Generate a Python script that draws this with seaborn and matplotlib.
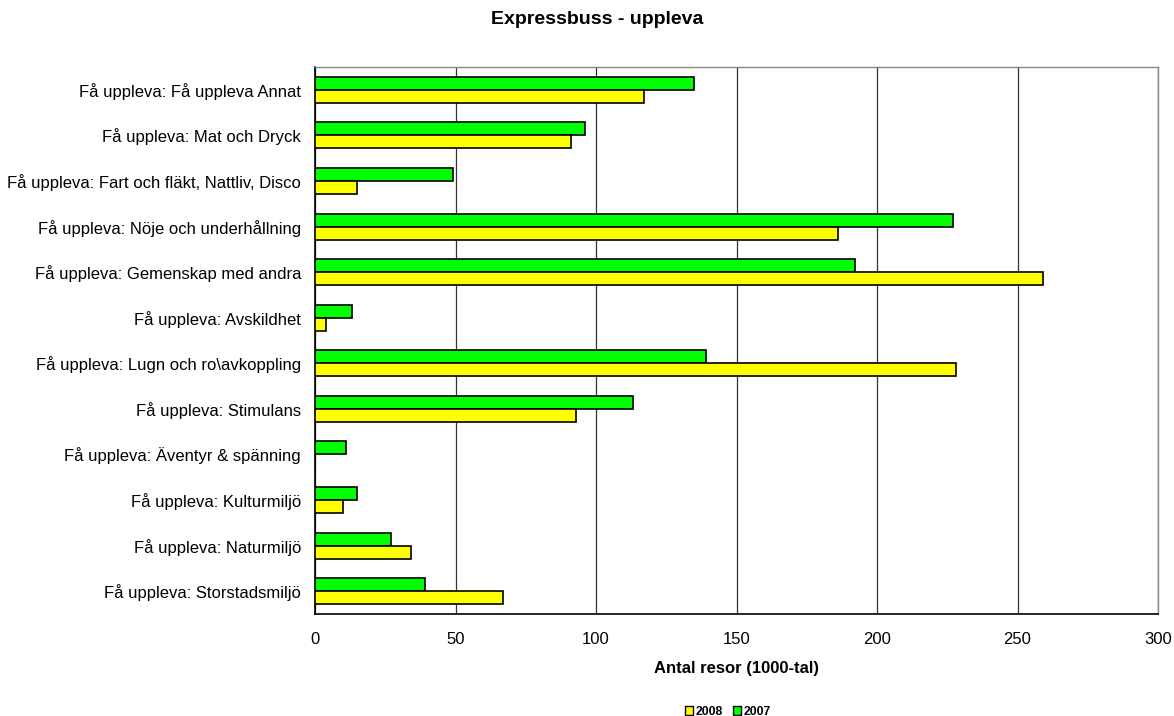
import matplotlib
matplotlib.use("Agg")
import matplotlib.pyplot as plt
from matplotlib.patches import Patch
from matplotlib.ticker import FixedLocator
import seaborn as sns
import pandas as pd

categories = [
    "Få uppleva: Få uppleva Annat",
    "Få uppleva: Mat och Dryck",
    "Få uppleva: Fart och fläkt, Nattliv, Disco",
    "Få uppleva: Nöje och underhållning",
    "Få uppleva: Gemenskap med andra",
    "Få uppleva: Avskildhet",
    "Få uppleva: Lugn och ro\\avkoppling",
    "Få uppleva: Stimulans",
    "Få uppleva: Äventyr & spänning",
    "Få uppleva: Kulturmiljö",
    "Få uppleva: Naturmiljö",
    "Få uppleva: Storstadsmiljö",
]
values_2007 = [135, 96, 49, 227, 192, 13, 139, 113, 11, 15, 27, 39]
values_2008 = [117, 91, 15, 186, 259, 4, 228, 93, 0, 10, 34, 67]
series = ["2007", "2008"]
legend_order = ["2008", "2007"]
colors = {"2007": "#00FF00", "2008": "#FFFF00"}

df = pd.DataFrame({
    "category": categories * 2,
    "year": ["2007"] * len(categories) + ["2008"] * len(categories),
    "value": values_2007 + values_2008,
})

sns.set_style("white")
plt.rcParams["font.family"] = ["Liberation Sans", "DejaVu Sans"]
plt.rcParams["text.color"] = "black"
plt.rcParams["axes.labelcolor"] = "black"
plt.rcParams["xtick.color"] = "black"
plt.rcParams["ytick.color"] = "black"

fig = plt.figure(figsize=(11.74, 7.16), dpi=100)
ax = fig.add_axes([315 / 1174, 1 - 614 / 716, (1158 - 315) / 1174, (614 - 67) / 716])

sns.barplot(data=df, x="value", y="category", hue="year", hue_order=series,
            order=categories, orient="h", palette=colors, width=0.57,
            edgecolor="black", linewidth=1.2, saturation=1, ax=ax, legend=False, zorder=3)

ax.set_xlim(0, 300)
ax.set_ylim(len(categories) - 0.5, -0.5)
ax.set_xticks(range(0, 301, 50))
ax.tick_params(axis="x", labelsize=12, length=5, width=1, direction="out", color="black", pad=8)
ax.xaxis.grid(True, color="#333333", linewidth=0.9, zorder=0)
ax.set_axisbelow(True)

ax.yaxis.set_minor_locator(FixedLocator([i - 0.5 for i in range(len(categories) + 1)]))
ax.tick_params(axis="y", which="major", length=0, labelsize=12, pad=10)
ax.tick_params(axis="y", which="minor", length=5, width=1, color="black", direction="out")
ax.set_ylabel("")
ax.set_xlabel("Antal resor (1000-tal)", fontsize=12, fontweight="bold", labelpad=10)

for s in ["left", "bottom"]:
    ax.spines[s].set_color("black")
    ax.spines[s].set_linewidth(1.2)
for s in ["top", "right"]:
    ax.spines[s].set_color("#888888")
    ax.spines[s].set_linewidth(1)

fig.suptitle("Expressbuss - uppleva", x=597 / 1174, y=1 - 20 / 716, va="center",
             fontsize=14, fontweight="bold")

handles = [Patch(facecolor=colors[y], edgecolor="black", linewidth=1, label=y) for y in legend_order]
fig.legend(handles=handles, loc="center", bbox_to_anchor=(728 / 1174, 1 - 712 / 716), ncol=2,
           frameon=False, prop={"size": 8.8, "weight": "bold"}, handlelength=0.7, handleheight=0.7,
           handletextpad=0.2, columnspacing=0.8, borderpad=0)

fig.savefig("out.png", dpi=100)
